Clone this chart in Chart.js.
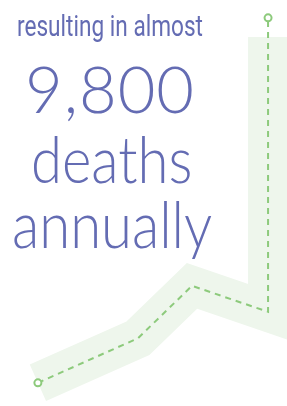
<!DOCTYPE html>
<html>
<head>
<meta charset="utf-8">
<script src="https://cdn.jsdelivr.net/npm/chart.js@4"></script>
<style>
  html, body { margin: 0; padding: 0; background: #fff; }
  #wrap { position: relative; width: 287px; height: 406px; overflow: hidden; }
  #c { position: absolute; left: 0; top: 0; }
  .t { position: absolute; color: #646cb3; white-space: nowrap; z-index: 2; transform-origin: 0 0; }
  #t1 { left: 17px; top: 6px; font-family: Roboto, sans-serif; font-size: 29px; line-height: 40px; transform: scaleX(0.78); }
  .big { font-family: "Lato Light", Lato, sans-serif; font-weight: 300; font-size: 65px; line-height: 70px; }
  #t2 { left: 25px; top: 53px; letter-spacing: 1px; }
  #t3 { left: 31px; top: 123px; transform: scaleX(0.865); }
  #t4 { left: 12px; top: 188px; transform: scaleX(0.865); }
</style>
</head>
<body>
<div id="wrap">
  <canvas id="c" width="287" height="406"></canvas>
  <div class="t" id="t1">resulting in almost</div>
  <div class="t big" id="t2">9,800</div>
  <div class="t big" id="t3">deaths</div>
  <div class="t big" id="t4">annually</div>
</div>
<script>
// Trend values (abstract units)
const xValues = [1.32, 4.81, 6.69, 9.34, 9.34];
const lineValues = [5.7, 16.7, 29.6, 23.2, 95.6];
const bandValues = [5.7, 16.7, 29.6, 23.2, 90.9];

const toPts = (xs, ys) => xs.map((x, i) => ({ x: x, y: ys[i] }));

new Chart(document.getElementById('c'), {
  type: 'line',
  data: {
    datasets: [
      {
        data: toPts(xValues, lineValues),
        borderColor: '#8dca7c',
        borderWidth: 2,
        borderDash: [6, 5],
        pointRadius: [3.5, 0, 0, 0, 3.5],
        pointBorderWidth: 2,
        pointBackgroundColor: '#ffffff',
        pointBorderColor: '#8dca7c',
        tension: 0,
        fill: false,
        clip: false,
        order: 0
      },
      {
        data: toPts(xValues, bandValues),
        borderColor: '#eef6ec',
        borderWidth: 40,
        borderJoinStyle: 'miter',
        borderCapStyle: 'butt',
        pointRadius: 0,
        tension: 0,
        fill: false,
        clip: false,
        order: 1
      }
    ]
  },
  options: {
    responsive: false,
    animation: false,
    events: [],
    layout: { padding: 0, autoPadding: false },
    plugins: { legend: { display: false }, tooltip: { enabled: false } },
    scales: {
      x: { type: 'linear', min: 0, max: 10, display: false },
      y: { type: 'linear', min: 0, max: 100, display: false }
    }
  }
});
</script>
</body>
</html>
